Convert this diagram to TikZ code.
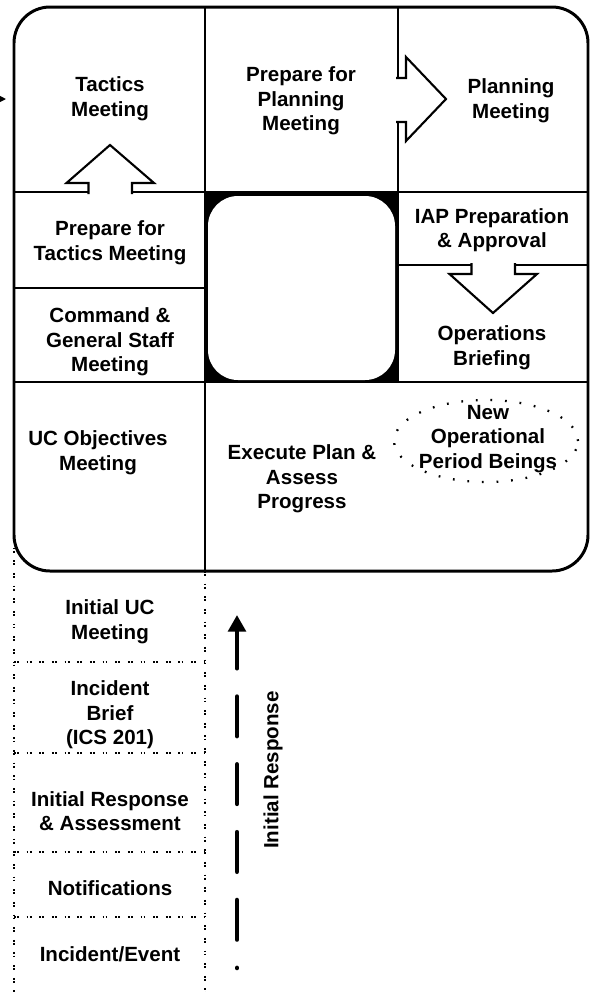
\documentclass[tikz,border=0pt]{standalone}
\usepackage{fontspec}
\setmainfont{Liberation Sans}
\usetikzlibrary{arrows.meta}

\tikzset{
  cell/.style={font=\fontsize{11.7}{14}\selectfont\bfseries, align=center, inner sep=0pt},
  grid/.style={line width=1.5pt},
  blockarrow/.style={fill=white, draw=black, line width=1.2pt},
  dotpair/.style={line width=1.4pt, dash pattern=on 1pt off 0.8pt on 1pt off 4.4pt},
  dotring/.style={line width=1.3pt, dash pattern=on 1pt off 7.3pt},
  rise/.style={line width=2.6pt, line cap=round, dash pattern=on 22.5pt off 16.1pt, dash phase=22.4pt, -{Triangle[length=9.5pt,width=10pt]}}
}

\begin{document}
\begin{tikzpicture}[x=0.02cm,y=-0.02cm]
  \def\xl{14};
  \def\xm{205};
  \def\xr{398};
  \def\xe{588};
  \def\yt{7};
  \def\ya{192};
  \def\yb{382};
  \def\yc{571};
  \useasboundingbox (0,0) rectangle (597,992);

  % centre square
  \fill[black] (\xm,\ya) rectangle (\xr,\yb);
  \fill[white,rounded corners=0.6cm] (208,196) rectangle (395,380);

  \draw[grid] (\xl,\ya)--(\xe,\ya);
  \draw[grid] (\xl,\yb)--(\xe,\yb);
  \draw[grid] (\xm,\yt)--(\xm,\yc);
  \draw[grid] (\xr,\yt)--(\xr,\yb);
  \draw[grid] (\xl,288)--(\xm,288);
  \draw[grid] (\xr,265)--(\xe,265);
  \draw[line width=1.7pt,rounded corners=0.72cm] (\xl,\yt) rectangle (\xe,\yc);

  \filldraw[blockarrow] (88.5,194)--++(0,-11)--++(-22,0)--(110,145)--(154,183)--++(-22,0)--++(0,11);
  \filldraw[blockarrow] (396,78)--++(10,0)--++(0,-21)--(446,99)--(406,141)--++(0,-19)--++(-10,0);
  \filldraw[blockarrow] (471.5,263)--++(0,11)--++(-22,0)--(493,313)--(537,274)--++(-22,0)--++(0,-11);

  % initial response column
  \draw[dotpair] (\xl,535)--(\xl,992);
  \draw[dotpair] (\xm,\yc)--(\xm,992);
  \draw[dotpair] (\xl,662)--(\xm,662);
  \draw[dotpair] (\xl,753)--(\xm,753);
  \draw[dotpair] (\xl,852)--(\xm,852);
  \draw[dotpair] (\xl,917)--(\xm,917);

  \node[cell] (tactics) at (110,99) {Tactics\\Meeting};
  \node[cell] (prepplan) at (301,101) {Prepare for\\Planning\\Meeting};
  \node[cell] (planning) at (511,101) {Planning\\Meeting};
  \node[cell] (preptac) at (110,243) {Prepare for\\Tactics Meeting};
  \node[cell] (cgsmeet) at (110,342) {Command \&\\General Staff\\Meeting};
  \node[cell] (iapprep) at (492,230) {IAP Preparation\\\& Approval};
  \node[cell] (opsbrief) at (492,348) {Operations\\Briefing};
  \node[cell] (ucobj) at (98,453) {UC Objectives\\Meeting};
  \node[cell] (execplan) at (302,479) {Execute Plan \&\\Assess\\Progress};
  \node[cell] (newop) at (488,439) {New\\Operational\\Period Beings};
  \draw[dotring] (486,441) ellipse [x radius=1.84cm, y radius=0.82cm];

  \node[cell] (ucfirst) at (110,622) {Initial UC\\Meeting};
  \node[cell] (icsbrief) at (110,715) {Incident\\Brief\\(ICS 201)};
  \node[cell] (initresp) at (110,811) {Initial Response\\\& Assessment};
  \node[cell] (notify) at (110,888) {Notifications};
  \node[cell] (incident) at (110,954) {Incident/Event};
  \node[cell,rotate=90] (irlabel) at (273,770) {Initial Response};

  \coordinate (irfoot) at (237,968);
  \coordinate (irhead) at (237,615);
  \draw[rise] (irfoot)--(irhead);

  \coordinate (offpage) at (-40,99);
  \coordinate (tacin) at (6,99);
  \draw[line width=1.2pt,-{Triangle[length=8pt,width=8pt]}] (offpage)--(tacin);
\end{tikzpicture}
\end{document}
